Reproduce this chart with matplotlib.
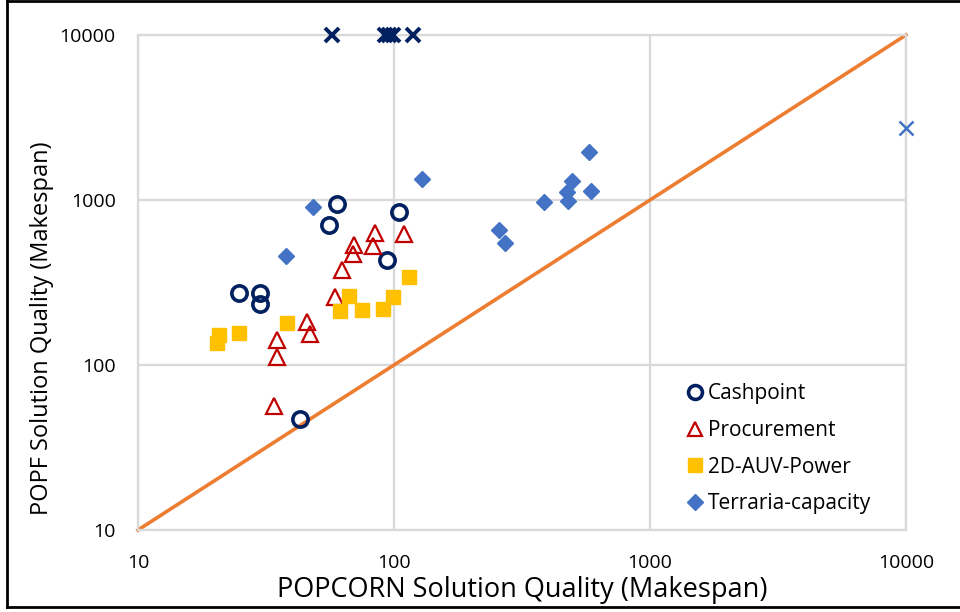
import matplotlib
matplotlib.use("Agg")
from matplotlib import pyplot as plt
from matplotlib.lines import Line2D

plt.rcParams["font.family"] = ["Open Sans", "DejaVu Sans"]

# makespans: POPCORN (x) vs POPF (y)
cash_x = [24.9, 30.0, 30.0, 42.9, 55.7, 59.7, 94.0, 104.6]
cash_y = [274, 274, 233, 46.9, 705, 946, 433, 841]

proc_x = [84.3, 109.4, 69.8, 82.8, 69.1, 62.6, 58.8, 45.7, 47.0, 34.9, 34.9, 34.0]
proc_y = [631, 622, 534, 526, 471, 377, 258, 182, 154, 142, 112, 56.5]

auv_x = [114.1, 66.9, 99.1, 61.7, 75.2, 90.8, 38.2, 20.7, 24.9, 20.4]
auv_y = [340, 263, 257, 212, 215, 218, 179, 153, 157, 135]

terr_x = [129, 48.1, 37.9, 578, 496, 473, 588, 384, 477, 258, 271]
terr_y = [1340, 904, 458, 1963, 1303, 1122, 1134, 973, 985, 658, 551]

# runs where POPF found no plan (plotted at the cap)
cash_fail_x = [57.1, 92.2, 95.5, 99.0, 118.6]
cash_fail_y = [10000, 10000, 10000, 10000, 10000]
terr_fail_x = [10000]
terr_fail_y = [2720]

diag = [10, 10000]
ticks = [10, 100, 1000, 10000]
tick_labels = ["10", "100", "1000", "10000"]

navy = "#002060"
red = "#c00000"
gold = "#ffc000"
blue = "#4472c4"
orange = "#ed7d31"
grid = "#d9d9d9"

fig = plt.figure(figsize=(9.6, 6.12), dpi=100)
ax = fig.add_axes([138 / 960, 1 - 530 / 612, 768 / 960, 495 / 612])
ax.set_xscale("log")
ax.set_yscale("log")
ax.set_xlim(10, 10000)
ax.set_ylim(10, 10000)

ax.plot(diag, diag, color=orange, lw=2.6, zorder=2, clip_on=False)

ax.plot(cash_x, cash_y, "o", ms=11, mfc="none", mec=navy, mew=2.6, zorder=3, label="Cashpoint")
ax.plot(proc_x, proc_y, "^", ms=12, mfc="none", mec=red, mew=1.6, zorder=3, label="Procurement")
ax.plot(auv_x, auv_y, "s", ms=10.5, color=gold, mec=gold, zorder=3, label="2D-AUV-Power")
ax.plot(terr_x, terr_y, "D", ms=8, color=blue, mec=blue, zorder=3, label="Terraria-capacity")
ax.plot(cash_fail_x, cash_fail_y, "x", ms=10.5, mew=2.8, color=navy, zorder=4, clip_on=False)
ax.plot(terr_fail_x, terr_fail_y, "x", ms=10.5, mew=1.8, color=blue, zorder=4, clip_on=False)

ax.set_xticks(ticks)
ax.set_xticklabels(tick_labels)
ax.set_yticks(ticks)
ax.set_yticklabels(tick_labels)
ax.minorticks_off()
ax.tick_params(length=0, labelsize=14, colors="#000000")
ax.tick_params(axis="x", pad=17)
ax.tick_params(axis="y", pad=16)
ax.grid(True, color=grid, lw=1.6, zorder=0)
ax.set_axisbelow(True)
for side, spine in ax.spines.items():
    spine.set_color(grid)
    spine.set_linewidth(1.6)

ax.set_xlabel("POPCORN Solution Quality (Makespan)", fontsize=19.5)
ax.xaxis.set_label_coords(0.5, (530 - 576) / 495)
ax.set_ylabel("POPF Solution Quality (Makespan)", fontsize=17)
ax.yaxis.set_label_coords((54 - 138) / 768, (530 - 328) / 495)

handles = [
    Line2D([], [], ls="none", marker="o", ms=10, mfc="none", mec=navy, mew=2.6),
    Line2D([], [], ls="none", marker="^", ms=10.5, mfc="none", mec=red, mew=1.6),
    Line2D([], [], ls="none", marker="s", ms=10, color=gold),
    Line2D([], [], ls="none", marker="D", ms=8, color=blue),
]
ax.legend(handles, ["Cashpoint", "Procurement", "2D-AUV-Power", "Terraria-capacity"],
          loc="upper left", bbox_to_anchor=((687 - 138) / 768, (530 - 383) / 495),
          frameon=False, fontsize=15, handlelength=0.8, handletextpad=0.2,
          labelspacing=0.76, borderaxespad=0, borderpad=0)

# outer frame
fig.add_artist(Line2D([7 / 960, 7 / 960], [1 - 1 / 612, 1 - 607 / 612], color="black", lw=2,
                      transform=fig.transFigure))
fig.add_artist(Line2D([7 / 960, 1], [1 - 1 / 612, 1 - 1 / 612], color="black", lw=2,
                      transform=fig.transFigure))
fig.add_artist(Line2D([7 / 960, 1], [1 - 607 / 612, 1 - 607 / 612], color="black", lw=2,
                      transform=fig.transFigure))

fig.savefig("out.png", dpi=100)
